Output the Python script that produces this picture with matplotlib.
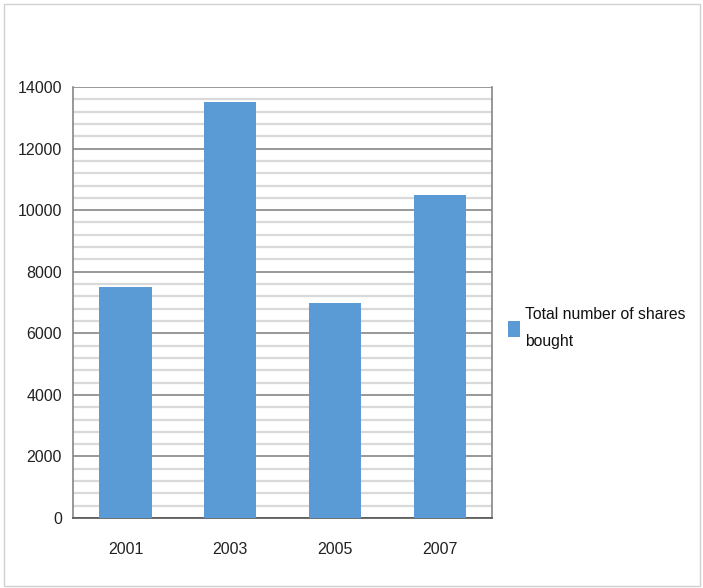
import matplotlib
matplotlib.use('Agg')
import matplotlib.pyplot as plt
from matplotlib.patches import Rectangle
import numpy as np

# data
years = ['2001', '2003', '2005', '2007']
shares = [7500, 13500, 7000, 10500]
series_name = 'Total number of shares\nbought'

plt.rcParams['font.family'] = ['Liberation Sans', 'DejaVu Sans']

fig = plt.figure(figsize=(7.03, 5.88), dpi=100)
ax = fig.add_axes([0.104, 0.119, 0.596, 0.733])

x = np.arange(len(years))
ax.bar(x, shares, width=0.5, color='#5B9BD5', zorder=3, label=series_name)

ax.set_xlim(-0.5, len(years) - 0.5)
ax.set_ylim(0, 14000)
ax.set_xticks(x)
ax.set_xticklabels(years)
ax.set_yticks(np.arange(0, 14001, 2000))
ax.set_yticks(np.arange(0, 14001, 400), minor=True)
ax.grid(which='minor', axis='y', color='#d9d9d9', linewidth=1.6, zorder=1)
ax.grid(which='major', axis='y', color='#868686', linewidth=1.2, zorder=2)
ax.tick_params(which='both', length=0, labelsize=11.5, colors='#222222')
ax.tick_params(axis='x', pad=17)
ax.tick_params(axis='y', pad=8)

for side in ['left', 'right', 'bottom']:
    ax.spines[side].set_color('#868686')
    ax.spines[side].set_linewidth(1.2)
ax.spines['bottom'].set_color('#555555')
ax.spines['top'].set_visible(False)

ax.legend(loc='center left', bbox_to_anchor=(1.005, 0.44), frameon=False,
          fontsize=11.3, handlelength=0.75, handleheight=1.2, handletextpad=0.3,
          labelcolor='#111111')
plt.setp(ax.get_legend().get_texts(), linespacing=2.0)

# outer border
fig.add_artist(Rectangle((0.006, 0.003), 0.99, 0.99, transform=fig.transFigure,
                         fill=False, edgecolor='#d0d0d0', linewidth=1))

fig.savefig('out.png', dpi=100)
